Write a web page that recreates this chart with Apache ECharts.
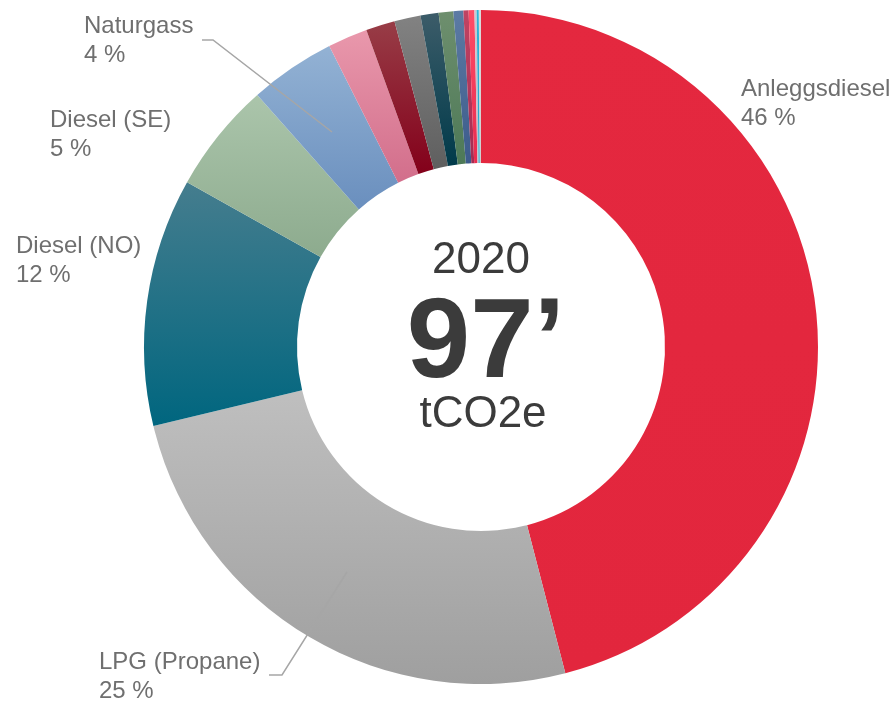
<!DOCTYPE html>
<html>
<head>
<meta charset="utf-8">
<script src="https://cdn.jsdelivr.net/npm/echarts@6/dist/echarts.min.js"></script>
<style>
  html, body { margin: 0; padding: 0; background: #fff; }
  #chart { width: 894px; height: 703px; }
</style>
</head>
<body>
<div id="chart"></div>
<script>
// emissions per source, tCO2e (2020), clockwise from 12 o'clock
const sources = [
  'Anleggsdiesel', 'LPG (Propane)', 'Diesel (NO)', 'Diesel (SE)', 'Naturgass',
  'Annet 1', 'Annet 2', 'Annet 3', 'Annet 4', 'Annet 5',
  'Annet 6', 'Annet 7', 'Annet 8', 'Annet 9', 'Annet 10', 'Annet 11',
];
const emissions = [
  44600, 24500, 11550, 5150, 4000,
  1850, 1350, 1220, 840, 680,
  460, 240, 270, 100, 100, 100,
];
const labelled = ['Anleggsdiesel', 'LPG (Propane)', 'Diesel (NO)', 'Diesel (SE)', 'Naturgass'];
const year = '2020';
const totalText = '97\u2019';
const unit = 'tCO2e';

// slice fills: [top, bottom] of a vertical gradient
const fills = [
  ['#e4283f', '#e2263d'],
  ['#bfbfbf', '#9f9f9f'],
  ['#457d8e', '#00667f'],
  ['#abc5ab', '#8dab8e'],
  ['#93b2d4', '#6a8fbe'],
  ['#e998ac', '#d26e8b'],
  ['#983d47', '#83001a'],
  ['#828282', '#5f5f5f'],
  ['#3c5c69', '#003a4a'],
  ['#6e8f6e', '#4d7957'],
  ['#5c7ba4', '#3c5b8b'],
  ['#c04463', '#a42c52'],
  ['#ff4d67', '#e82b4f'],
  ['#c9c9d1', '#bdbdc6'],
  ['#2cb6d9', '#22a6cc'],
  ['#dadada', '#cfcfcf'],
];

// where the labels sit (top-left) and their leader lines
const labelPos = {
  'Anleggsdiesel': { x: 741, y: 75 },
  'LPG (Propane)': { x: 99, y: 648, line: [[347, 572], [282, 675], [269, 675]] },
  'Diesel (NO)': { x: 16, y: 232 },
  'Diesel (SE)': { x: 50, y: 106 },
  'Naturgass': { x: 84, y: 12, line: [[332, 132], [213, 40], [202, 40]] },
};

const font = '"Liberation Sans", Arial, sans-serif';
const pieCenter = [481, 347];
const pieRadius = [184, 337];

const chart = echarts.init(document.getElementById('chart'));

// coloured ring
const ringData = sources.map((name, i) => ({
  name: name,
  value: emissions[i],
  itemStyle: {
    color: new echarts.graphic.LinearGradient(0, 0, 0, 1, [
      { offset: 0, color: fills[i][0] },
      { offset: 1, color: fills[i][1] },
    ]),
  },
}));

// same values again on a see-through ring on top, only for labels + leader lines
const labelData = sources.map((name, i) => {
  const isLabelled = labelled.includes(name);
  return {
    name: name,
    value: emissions[i],
    label: { show: isLabelled },
    labelLine: { show: isLabelled && !!(labelPos[name] && labelPos[name].line) },
  };
});

chart.setOption({
  animation: false,
  series: [
    {
      type: 'pie',
      center: pieCenter,
      radius: pieRadius,
      startAngle: 90,
      clockwise: true,
      silent: true,
      itemStyle: { borderWidth: 0 },
      label: { show: false },
      labelLine: { show: false },
      data: ringData,
    },
    {
      type: 'pie',
      z: 3,
      center: pieCenter,
      radius: pieRadius,
      startAngle: 90,
      clockwise: true,
      silent: true,
      avoidLabelOverlap: false,
      percentPrecision: 0,
      itemStyle: { color: 'rgba(0,0,0,0)', borderWidth: 0 },
      label: {
        position: 'outside',
        formatter: '{b}\n{d} %',
        fontFamily: font,
        fontSize: 24,
        lineHeight: 29,
        color: '#6f6f6f',
        align: 'left',
      },
      labelLine: {
        showAbove: true,
        lineStyle: { color: '#a6a6a6', width: 1.5 },
      },
      labelLayout: function (params) {
        const name = sources[params.dataIndex];
        const p = labelPos[name];
        if (!p) return {};
        const out = { x: p.x, y: p.y, align: 'left', verticalAlign: 'top' };
        if (p.line) out.labelLinePoints = p.line;
        return out;
      },
      data: labelData,
    },
  ],
  graphic: [
    {
      type: 'text',
      x: 481,
      y: 261,
      style: {
        text: year,
        font: '44px ' + font,
        fill: '#3b3b3b',
        align: 'center',
        verticalAlign: 'middle',
      },
    },
    {
      type: 'text',
      x: 486,
      y: 346,
      style: {
        text: totalText,
        font: 'bold 114px ' + font,
        fill: '#3b3b3b',
        align: 'center',
        verticalAlign: 'middle',
      },
    },
    {
      type: 'text',
      x: 483,
      y: 415,
      style: {
        text: unit,
        font: '44px ' + font,
        fill: '#3b3b3b',
        align: 'center',
        verticalAlign: 'middle',
      },
    },
  ],
});
</script>
</body>
</html>
